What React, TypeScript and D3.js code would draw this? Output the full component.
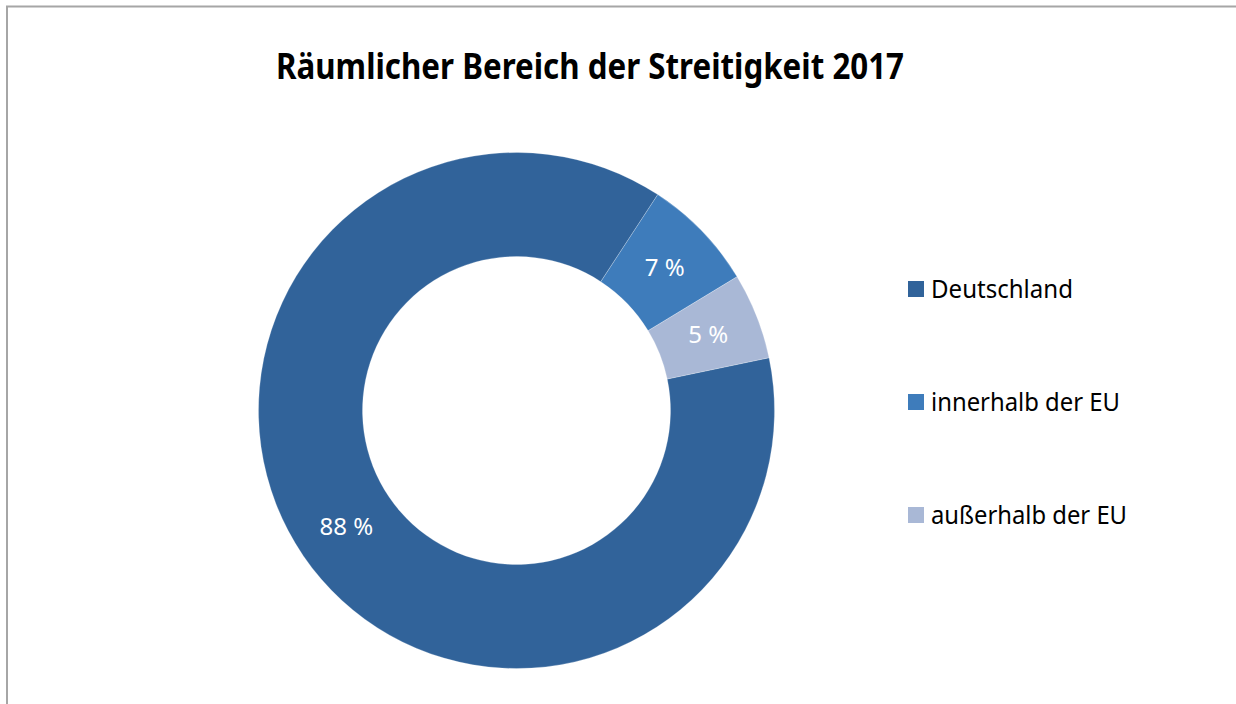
import React from "react";
import * as d3 from "d3";

const categories = ["Deutschland", "innerhalb der EU", "außerhalb der EU"];
const values = [87.5, 7.1, 5.4];
const colors = ["#31639A", "#3E7CBB", "#A9B8D6"];
const title = "Räumlicher Bereich der Streitigkeit 2017";

const W = 1236;
const H = 704;
const cx = 516.5;
const cy = 410.5;
const outerR = 258;
const innerR = 154;
const startDeg = 78.2;
const FONT = "'Noto Sans', 'Open Sans', sans-serif";

export default function App() {
  const start = (startDeg * Math.PI) / 180;
  const pie = d3
    .pie<number>()
    .sort(null)
    .startAngle(start)
    .endAngle(start + 2 * Math.PI);
  const arcs = pie(values);
  const arcGen = d3.arc<d3.PieArcDatum<number>>().innerRadius(innerR).outerRadius(outerR);
  const legendY = d3.scalePoint<string>().domain(categories).range([289, 515]);
  const legendLen = [142, 189, 196];

  return (
    <svg
      width={W}
      height={H}
      style={{ position: "absolute", left: 0, top: 0, background: "#fff" }}
    >
      <rect x={0} y={0} width={W} height={H} fill="#fff" />
      <line x1={7} y1={6} x2={7} y2={H} stroke="#a6a6a6" strokeWidth={2} />
      <line x1={6} y1={6.5} x2={W} y2={6.5} stroke="#a6a6a6" strokeWidth={2} />
      <text
        x={276}
        y={79}
        fontFamily={FONT}
        fontWeight="bold"
        fontSize={36}
        fill="#000"
        textLength={628}
        lengthAdjust="spacingAndGlyphs"
      >
        {title}
      </text>
      <g transform={`translate(${cx},${cy})`}>
        {arcs.map((a, i) => (
          <path key={i} d={arcGen(a) || ""} fill={colors[i]} stroke="#ffffff" strokeWidth={0.4} strokeOpacity={0.6} />
        ))}
        {arcs.map((a, i) => {
          const [x, y] = arcGen.centroid(a);
          return (
            <text
              key={"l" + i}
              x={x}
              y={y}
              dy="0.35em"
              textAnchor="middle"
              fontFamily={FONT}
              fontSize={24}
              fill="#fff"
            >
              {`${Math.round(values[i])} %`}
            </text>
          );
        })}
      </g>
      {categories.map((c, i) => {
        const y = legendY(c) as number;
        return (
          <g key={"lg" + i}>
            <rect x={908} y={y - 8} width={16} height={16} fill={colors[i]} />
            <text
              x={931}
              y={y + 8.5}
              fontFamily={FONT}
              fontSize={25}
              fill="#000"
              textLength={legendLen[i]}
              lengthAdjust="spacingAndGlyphs"
            >
              {c}
            </text>
          </g>
        );
      })}
    </svg>
  );
}
